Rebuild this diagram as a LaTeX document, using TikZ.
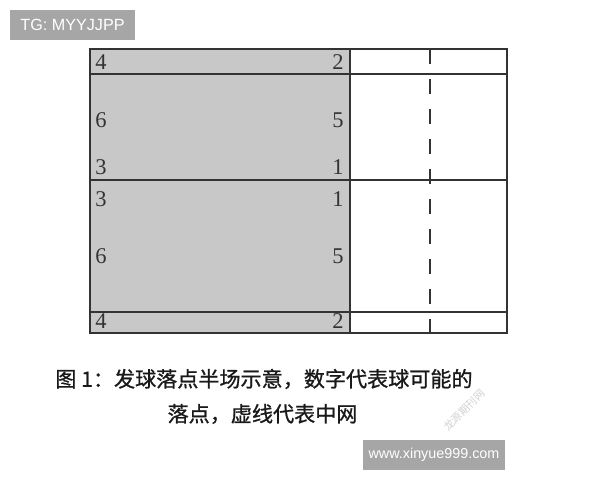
\documentclass[tikz,border=0pt]{standalone}
\usepackage{fontspec}
\setmainfont{Liberation Serif}
\newfontfamily\cjk[FakeBold=1]{Noto Sans CJK SC}
\newfontfamily\cjkmark{Noto Sans CJK SC}
\newfontfamily\tagfont{Liberation Sans}
\usepackage{tikz}
\usepackage{xcolor}
\usetikzlibrary{positioning}
\definecolor{courtgray}{HTML}{C8C8C8}
\definecolor{linegray}{HTML}{333333}
\definecolor{taggray}{HTML}{A6A6A6}

\begin{document}
\begin{tikzpicture}[x=0.025cm, y=-0.025cm,
    num/.style={inner sep=0pt, text=linegray, font=\fontsize{16}{16}\selectfont},
    court/.style={draw=linegray, line width=1.3pt},
    tagbox/.style={fill=taggray, text=white, inner sep=0pt, minimum height=0.75cm, font=\tagfont\fontsize{11.5}{12}\selectfont},
    caption/.style={inner sep=0pt, text=black!90, font=\cjk\fontsize{15}{15}\selectfont}]
                \useasboundingbox (0,0) rectangle (600,480);
                % Watermark tags
                \node[tagbox, minimum width=3.125cm] (tg) at (72.5,25) {TG: MYYJJPP};
                \node[tagbox, minimum width=3.55cm, font=\tagfont\fontsize{10.2}{11}\selectfont] (site) at (434,455) {www.xinyue999.com};

                % Half court: grey serving side, white side
                \fill[courtgray] (90,49) rectangle (350,333);
                \draw[court] (90,49) rectangle (507,333);
                \draw[court] (350,49) -- (350,333);
                \draw[court] (90,74) -- (507,74);
                \draw[court] (90,180) -- (507,180);
                \draw[court] (90,312) -- (507,312);

                % Dashed line is the middle net
                \draw[court, dash pattern=on 0.375cm off 0.375cm] (430,49) -- (430,333);

                % Landing spots, left column
                \node[num, anchor=west] (l4a) at (95,62.5) {4};
                \node[num, anchor=west] (l6a) at (95,120) {6};
                \node[num, anchor=west] (l3a) at (95,167) {3};
                \node[num, anchor=west] (l3b) at (95,199) {3};
                \node[num, anchor=west] (l6b) at (95,256) {6};
                \node[num, anchor=west] (l4b) at (95,321) {4};

                % Landing spots, right column
                \node[num, anchor=east] (r2a) at (344,62.5) {2};
                \node[num, anchor=east] (r5a) at (344,120) {5};
                \node[num, anchor=east] (r1a) at (344,167) {1};
                \node[num, anchor=east] (r1b) at (344,199) {1};
                \node[num, anchor=east] (r5b) at (344,256) {5};
                \node[num, anchor=east] (r2b) at (344,321) {2};

                % Caption
                \node[caption] (cap1) at (264,379) {图 1：发球落点半场示意，数字代表球可能的};
                \node[caption] (cap2) at (262.5,414) {落点，虚线代表中网};
                \node[inner sep=0pt, rotate=45, text=black!18, font=\cjkmark\fontsize{7.5}{8}\selectfont] (mark) at (464,410) {龙源期刊网};
            \end{tikzpicture}
\end{document}
